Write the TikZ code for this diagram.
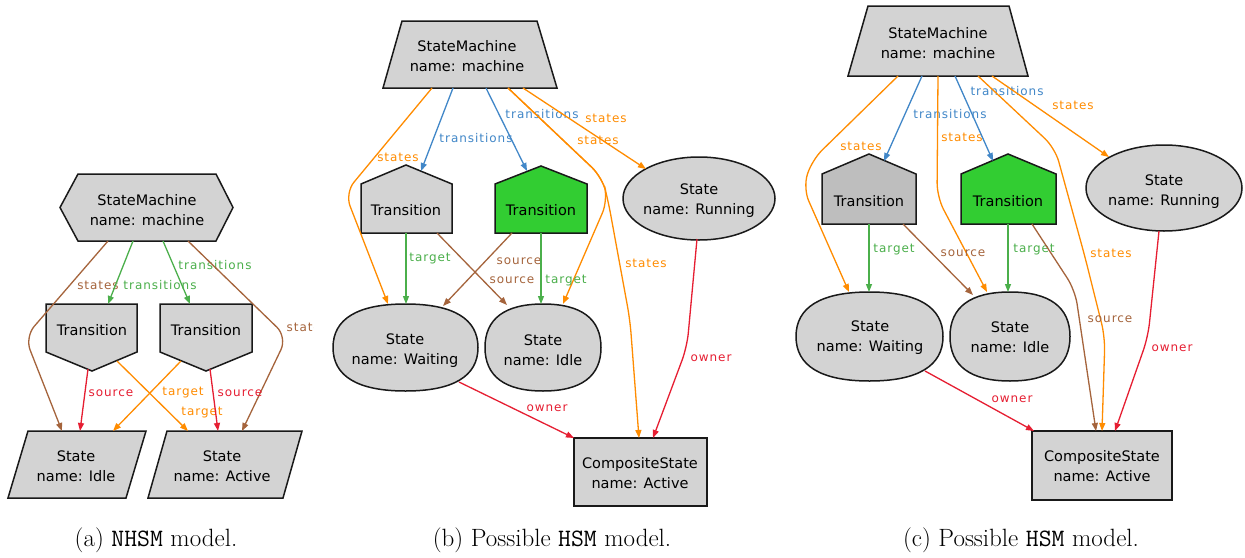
\documentclass[tikz,border=0pt]{standalone}
\usepackage{fontspec}
\newfontfamily\nodefont{DejaVu Sans}
\newfontfamily\lblfont[LetterSpace=8]{DejaVu Sans}
\usetikzlibrary{arrows.meta}
\definecolor{cOr}{RGB}{255,140,0}
\definecolor{cBl}{RGB}{65,135,200}
\definecolor{cGr}{RGB}{75,175,75}
\definecolor{cBr}{RGB}{165,100,60}
\definecolor{cRd}{RGB}{230,30,50}
\definecolor{cFill}{RGB}{211,211,211}
\definecolor{cDark}{RGB}{190,190,190}
\definecolor{cLime}{RGB}{50,205,50}
\definecolor{cLine}{RGB}{25,25,25}
\tikzset{
  shp/.style={draw=cLine, line width=1.5pt, fill=cFill, line join=miter},
  txt/.style={font=\nodefont\fontsize{14.5}{20}\selectfont, align=center, inner sep=0pt, text=black},
  conn/.style={line width=1.3pt, -{Triangle[length=8pt,width=6pt]}, rounded corners=14pt, line join=round},
  lbl/.style={font=\lblfont\fontsize{12}{14}\selectfont, inner sep=0pt},
  eor/.style={conn, color=cOr},
  ebl/.style={conn, color=cBl},
  egr/.style={conn, color=cGr},
  ebr/.style={conn, color=cBr},
  erd/.style={conn, color=cRd},
  captxt/.style={font=\fontsize{25}{30}\selectfont, inner sep=0pt}
}
\newcommand\sqc[4]{\filldraw[shp] ({#1+#3},{#2}) .. controls ({#1+#3},{#2+0.66*#4}) and ({#1+0.66*#3},{#2+#4}) .. ({#1},{#2+#4}) .. controls ({#1-0.66*#3},{#2+#4}) and ({#1-#3},{#2+0.66*#4}) .. ({#1-#3},{#2}) .. controls ({#1-#3},{#2-0.66*#4}) and ({#1-0.66*#3},{#2-#4}) .. ({#1},{#2-#4}) .. controls ({#1+0.66*#3},{#2-#4}) and ({#1+#3},{#2-0.66*#4}) .. cycle;}
\begin{document}
\begin{tikzpicture}[x=1pt,y=-1pt]
\fill[white] (0,0) rectangle (1245,557);
\useasboundingbox (0,0) rectangle (1245,557);

% ---------------- (a) ----------------
\begin{scope}
\clip (0,0) rectangle (313,557);
\filldraw[shp] (60,207.5) -- (78,174) -- (216,174) -- (233,207.5) -- (216,241) -- (78,241) -- cycle;
\filldraw[shp] (46,304) -- (137,304) -- (137,352) -- (92,371) -- (46,352) -- cycle;
\filldraw[shp] (160,304) -- (252,304) -- (252,352) -- (206,371) -- (160,352) -- cycle;
\filldraw[shp] (28,431) -- (146,431) -- (126,498) -- (8,498) -- cycle;
\filldraw[shp] (167,431) -- (302,431) -- (283,498) -- (148,498) -- cycle;
\node[txt] (Ha) at (147,210) {StateMachine\\name: machine};
\node[txt] (Ta1) at (92,330) {Transition};
\node[txt] (Ta2) at (206,330) {Transition};
\node[txt] (Ia) at (76,466) {State\\name: Idle};
\node[txt] (Aa) at (222,466) {State\\name: Active};
\draw[ebr] ([shift={(-39,31)}]Ha.center) -- (25,337) -- ([shift={(-14,-35)}]Ia.center) node[lbl] at (98,285) {states};
\draw[egr] ([shift={(-14,31)}]Ha.center) -- ([shift={(16,-26)}]Ta1.center) node[lbl] at (160,285) {transitions};
\draw[egr] ([shift={(16,31)}]Ha.center) -- ([shift={(-16,-26)}]Ta2.center) node[lbl] at (215,265) {transitions};
\draw[ebr] ([shift={(41,31)}]Ha.center) -- (287,337) -- ([shift={(20,-35)}]Aa.center) node[lbl,anchor=west] at (286,327) {states};
\draw[erd] ([shift={(-4,39)}]Ta1.center) -- ([shift={(4,-35)}]Ia.center) node[lbl] at (111,393) {source};
\draw[eor] ([shift={(25,31)}]Ta1.center) -- ([shift={(-34,-35)}]Aa.center) node[lbl] at (202,413) {target};
\draw[eor] ([shift={(-25,31)}]Ta2.center) -- ([shift={(37,-35)}]Ia.center) node[lbl] at (183,393) {target};
\draw[erd] ([shift={(4,39)}]Ta2.center) -- ([shift={(-4,-35)}]Aa.center) node[lbl] at (240,393) {source};
\end{scope}

% ---------------- (b) ----------------
\filldraw[shp] (402,21) -- (537,21) -- (557,88) -- (383,88) -- cycle;
\filldraw[shp] (361,233) -- (452,233) -- (452,184) -- (406,165) -- (361,184) -- cycle;
\filldraw[shp, fill=cLime] (495,233) -- (587,233) -- (587,184) -- (541,166) -- (495,184) -- cycle;
\filldraw[shp] (699,198.5) ellipse [x radius=76pt, y radius=41.5pt];
\sqc{405.5}{347.5}{72.5}{43.5}
\sqc{543}{347.5}{58}{43.5}
\filldraw[shp] (574,438) rectangle (707,506);
\node[txt] (Mb) at (467,56) {StateMachine\\name: machine};
\node[txt] (Tb1) at (406,210) {Transition};
\node[txt] (Tb2) at (541,210) {Transition};
\node[txt] (Rb) at (699,201) {State\\name: Running};
\node[txt] (Wb) at (405,351) {State\\name: Waiting};
\node[txt] (Ib) at (543,350) {State\\name: Idle};
\node[txt] (Cb) at (640,473) {CompositeState\\name: Active};
\draw[eor] ([shift={(-35,32)}]Mb.center) -- (345,193) -- ([shift={(-17,-47)}]Wb.center) node[lbl] at (398,157) {states};
\draw[ebl] ([shift={(-14,32)}]Mb.center) -- ([shift={(15,-39)}]Tb1.center) node[lbl] at (476,138) {transitions};
\draw[ebl] ([shift={(19,32)}]Mb.center) -- ([shift={(-14,-39)}]Tb2.center) node[lbl] at (542,114) {transitions};
\draw[eor] ([shift={(41,32)}]Mb.center) -- (602,177) -- (608,200) -- ([shift={(20,-46)}]Ib.center) node[lbl] at (598,140) {states};
\draw[eor] ([shift={(41,32)}]Mb.center) -- (602,177) -- (608,200) -- (630,320) -- ([shift={(-1,-35)}]Cb.center) node[lbl] at (646,263) {states};
\draw[eor] ([shift={(56,32)}]Mb.center) -- ([shift={(-53,-32)}]Rb.center) node[lbl] at (606,118) {states};
\draw[egr] ([shift={(0,23)}]Tb1.center) -- ([shift={(1,-47)}]Wb.center) node[lbl] at (430,259) {target};
\draw[ebr] ([shift={(31,23)}]Tb1.center) -- ([shift={(-36,-45)}]Ib.center) node[lbl] at (512,280) {source};
\draw[ebr] ([shift={(-29,23)}]Tb2.center) -- ([shift={(38,-45)}]Wb.center) node[lbl] at (519,261) {source};
\draw[egr] ([shift={(0,23)}]Tb2.center) -- ([shift={(-2,-46)}]Ib.center) node[lbl] at (566,281) {target};
\draw[erd] ([shift={(-2,38)}]Rb.center) -- (687,347) -- ([shift={(13,-35)}]Cb.center) node[lbl] at (711,358) {owner};
\draw[erd] ([shift={(54,31)}]Wb.center) -- ([shift={(-66,-35)}]Cb.center) node[lbl] at (547,408) {owner};

% ---------------- (c) ----------------
\filldraw[shp] (868,6) -- (1009,6) -- (1028,76) -- (848,76) -- cycle;
\filldraw[shp, fill=cDark] (822,224) -- (916,224) -- (916,174) -- (869,154) -- (822,174) -- cycle;
\filldraw[shp, fill=cLime] (961,224) -- (1056,224) -- (1056,174) -- (1008,154) -- (961,174) -- cycle;
\filldraw[shp] (1164,188) ellipse [x radius=78pt, y radius=43pt];
\sqc{869.5}{336.5}{73.5}{44.5}
\sqc{1010}{336.5}{60}{44.5}
\filldraw[shp] (1032,431) rectangle (1172,500);
\node[txt] (Mc) at (938,43) {StateMachine\\name: machine};
\node[txt] (Tc1) at (869,201) {Transition};
\node[txt] (Tc2) at (1008,201) {Transition};
\node[txt] (Rc) at (1164,192) {State\\name: Running};
\node[txt] (Wc) at (870,338) {State\\name: Waiting};
\node[txt] (Ic) at (1010,337) {State\\name: Idle};
\node[txt] (Cc) at (1102,466) {CompositeState\\name: Active};
\draw[eor] ([shift={(-40,33)}]Mc.center) -- (812,160) -- (803,188) -- ([shift={(-21,-46)}]Wc.center) node[lbl] at (861,146) {states};
\draw[ebl] ([shift={(-16,33)}]Mc.center) -- ([shift={(15,-40)}]Tc1.center) node[lbl] at (950,114) {transitions};
\draw[eor] ([shift={(0,33)}]Mc.center) -- (937,197) -- ([shift={(-23,-45)}]Ic.center) node[lbl] at (962,137) {states};
\draw[ebl] ([shift={(17,33)}]Mc.center) -- ([shift={(-15,-40)}]Tc2.center) node[lbl] at (1007,91) {transitions};
\draw[eor] ([shift={(40,33)}]Mc.center) -- (1055,148) -- (1085,257) -- (1105,337) -- ([shift={(0,-35)}]Cc.center) node[lbl] at (1111,253) {states};
\draw[eor] ([shift={(54,33)}]Mc.center) -- ([shift={(-55,-35)}]Rc.center) node[lbl] at (1073,105) {states};
\draw[egr] ([shift={(0,23)}]Tc1.center) -- ([shift={(-1,-46)}]Wc.center) node[lbl] at (894,250) {target};
\draw[ebr] ([shift={(34,23)}]Tc1.center) -- ([shift={(-37,-42)}]Ic.center) node[lbl] at (963,253) {source};
\draw[egr] ([shift={(0,23)}]Tc2.center) -- ([shift={(-2,-45)}]Ic.center) node[lbl] at (1034,250) {target};
\draw[ebr] ([shift={(24,23)}]Tc2.center) -- (1075,290) -- ([shift={(-6,-35)}]Cc.center) node[lbl] at (1110,319) {source};
\draw[erd] ([shift={(-5,39)}]Rc.center) -- (1148,337) -- ([shift={(13,-35)}]Cc.center) node[lbl] at (1172,348) {owner};
\draw[erd] ([shift={(55,33)}]Wc.center) -- ([shift={(-68,-35)}]Cc.center) node[lbl] at (1012,399) {owner};

% captions
\node[captxt] (capa) at (156,540) {(a) \texttt{NHSM} model.};
\node[captxt] (capb) at (552,540) {(b) Possible \texttt{HSM} model.};
\node[captxt] (capc) at (1021,540) {(c) Possible \texttt{HSM} model.};
\end{tikzpicture}
\end{document}
